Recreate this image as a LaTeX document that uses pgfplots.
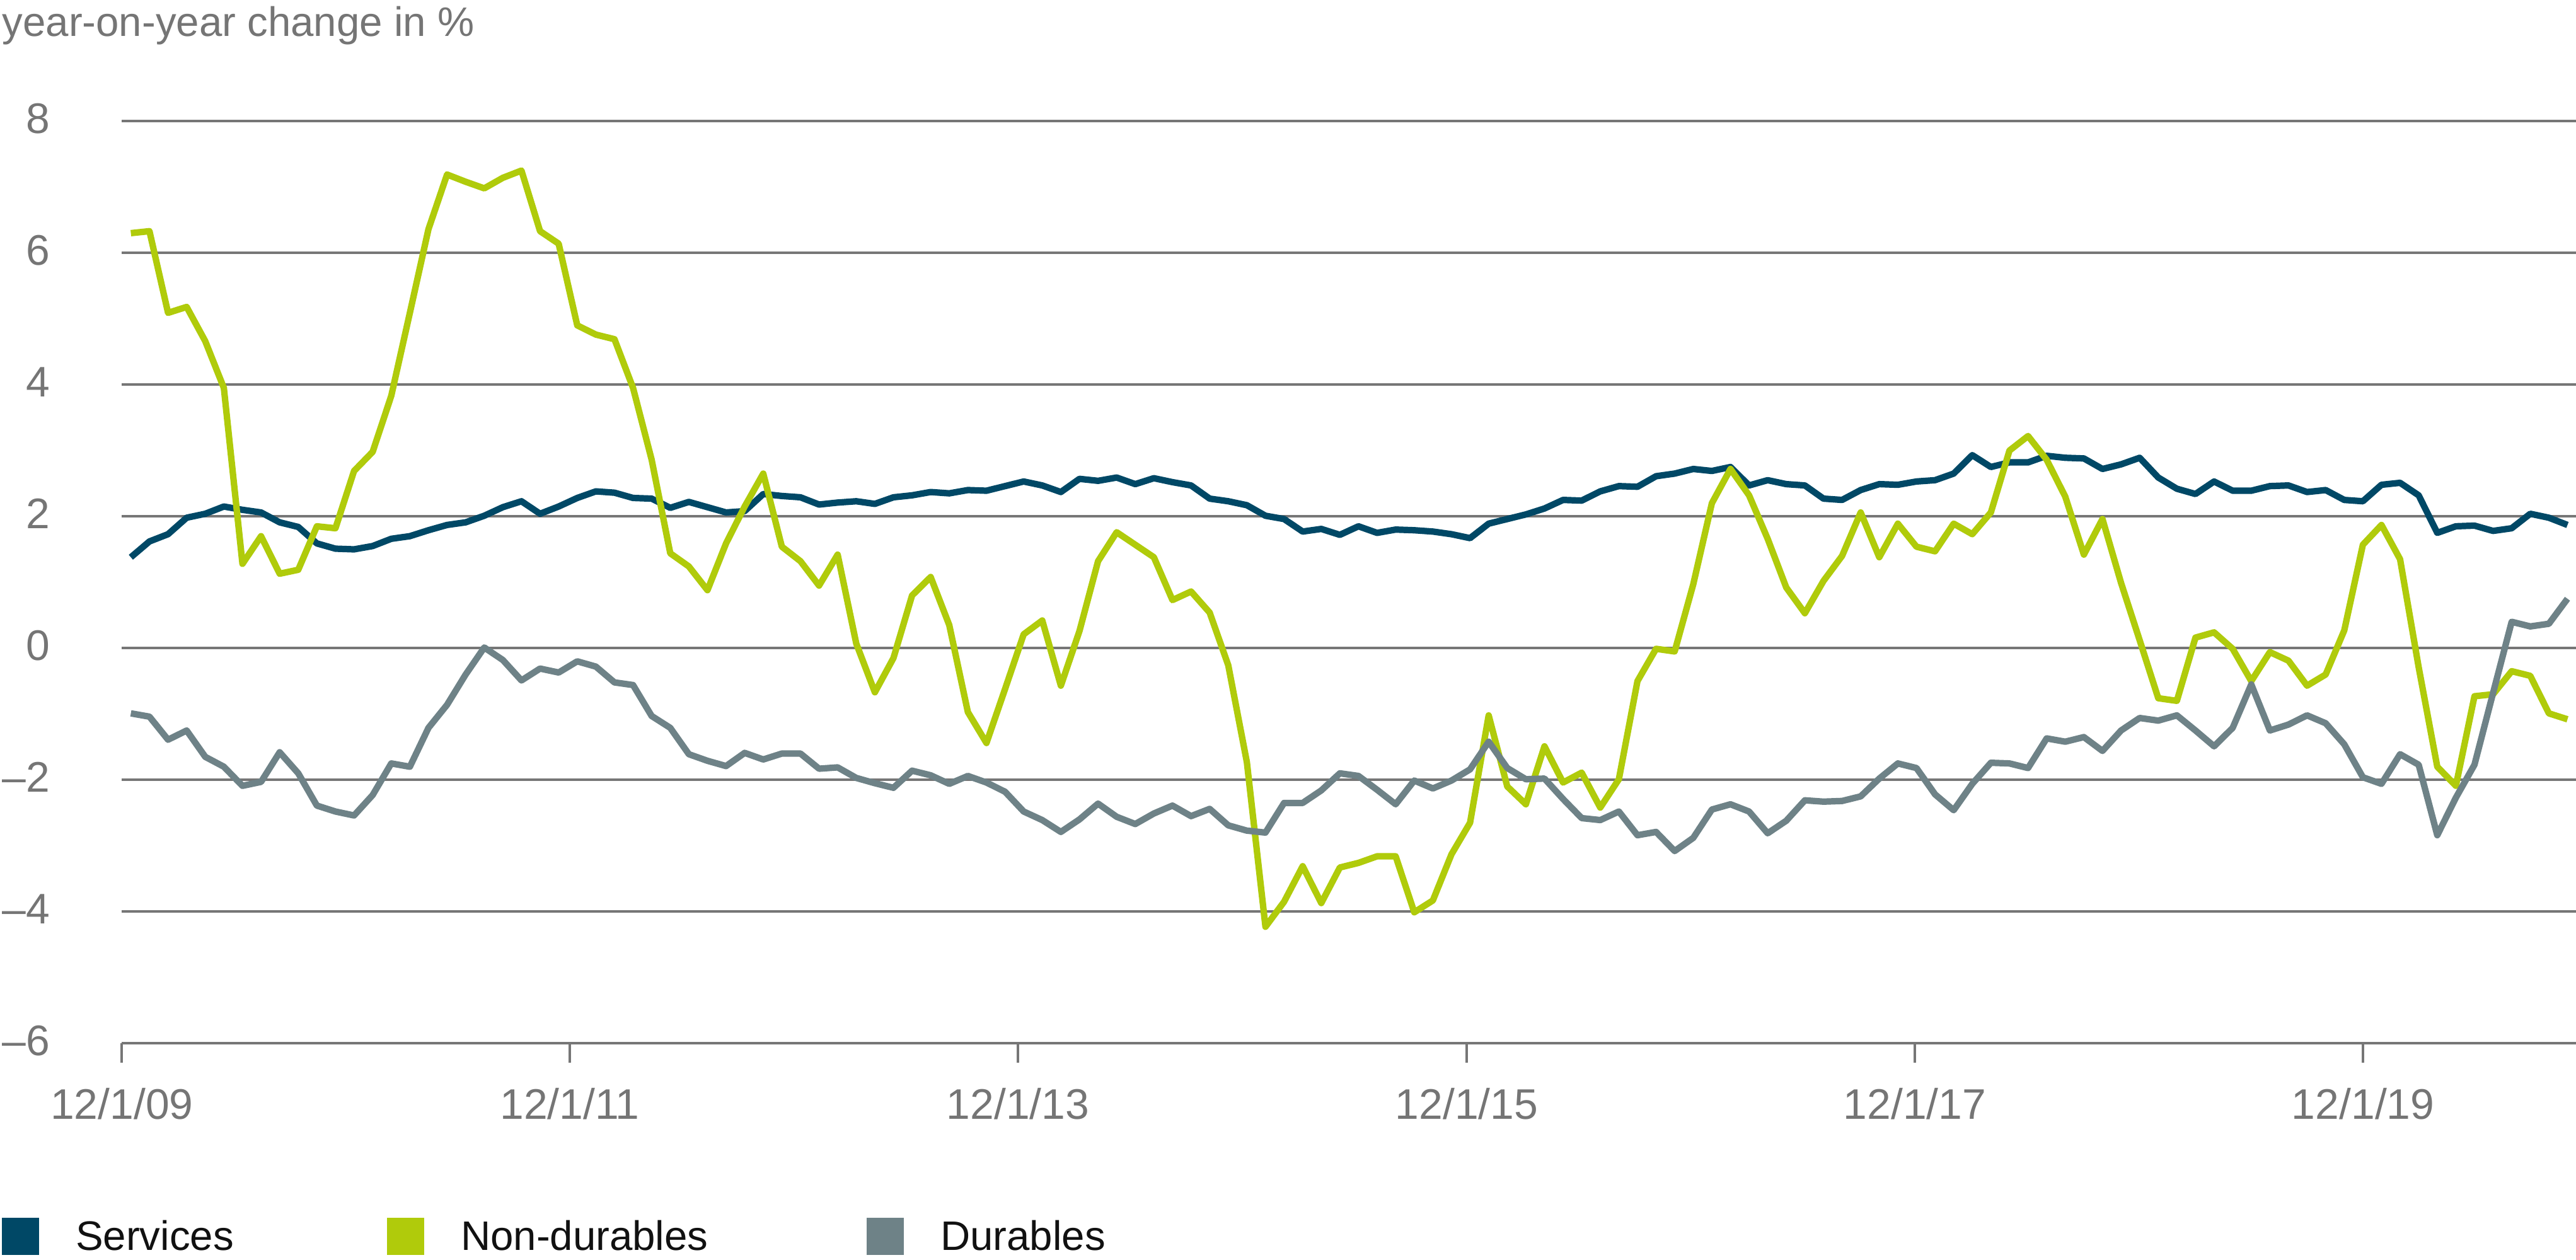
\documentclass[border=0pt]{standalone}
\usepackage{pgfplots}
\pgfplotsset{compat=1.18}
\usepackage{pgfplotstable}
\usepackage{fontspec}
\setmainfont{Liberation Sans}

\definecolor{servcol}{RGB}{0,72,102}
\definecolor{nondcol}{RGB}{176,203,11}
\definecolor{durcol}{RGB}{110,130,135}
\definecolor{gridcol}{RGB}{118,118,118}
\definecolor{labelgray}{RGB}{117,117,117}
\definecolor{legtext}{RGB}{17,17,17}

% month index, Services, Non-durables, Durables (yoy %)
\pgfplotstableread{
i S N D
0 1.38 6.30 -0.99
1 1.62 6.33 -1.04
2 1.73 5.09 -1.39
3 1.98 5.18 -1.25
4 2.04 4.66 -1.65
5 2.15 3.95 -1.80
6 2.10 1.28 -2.09
7 2.06 1.70 -2.03
8 1.91 1.13 -1.58
9 1.84 1.19 -1.90
10 1.59 1.85 -2.39
11 1.51 1.82 -2.48
12 1.50 2.69 -2.54
13 1.55 2.98 -2.23
14 1.66 3.83 -1.75
15 1.70 5.09 -1.80
16 1.79 6.36 -1.21
17 1.87 7.19 -0.86
18 1.91 7.08 -0.40
19 2.01 6.98 0.01
20 2.14 7.14 -0.18
21 2.23 7.25 -0.49
22 2.04 6.33 -0.31
23 2.15 6.14 -0.37
24 2.28 4.90 -0.20
25 2.38 4.76 -0.28
26 2.36 4.69 -0.52
27 2.28 3.95 -0.56
28 2.27 2.86 -1.03
29 2.13 1.44 -1.21
30 2.22 1.24 -1.61
31 2.14 0.88 -1.71
32 2.06 1.59 -1.79
33 2.08 2.15 -1.59
34 2.34 2.65 -1.69
35 2.31 1.54 -1.60
36 2.29 1.32 -1.60
37 2.18 0.95 -1.83
38 2.21 1.42 -1.81
39 2.23 0.07 -1.97
40 2.19 -0.67 -2.05
41 2.29 -0.15 -2.12
42 2.32 0.80 -1.86
43 2.37 1.08 -1.93
44 2.35 0.35 -2.06
45 2.40 -0.97 -1.94
46 2.39 -1.44 -2.04
47 2.46 -0.62 -2.18
48 2.53 0.21 -2.48
49 2.47 0.42 -2.61
50 2.37 -0.57 -2.79
51 2.57 0.26 -2.60
52 2.54 1.32 -2.36
53 2.59 1.76 -2.56
54 2.49 1.57 -2.67
55 2.58 1.38 -2.51
56 2.52 0.73 -2.39
57 2.47 0.86 -2.55
58 2.27 0.54 -2.44
59 2.23 -0.26 -2.69
60 2.17 -1.73 -2.77
61 2.01 -4.23 -2.80
62 1.96 -3.85 -2.35
63 1.77 -3.31 -2.35
64 1.81 -3.87 -2.16
65 1.72 -3.33 -1.90
66 1.85 -3.26 -1.94
67 1.75 -3.16 -2.15
68 1.80 -3.16 -2.37
69 1.79 -4.01 -2.01
70 1.77 -3.83 -2.13
71 1.73 -3.13 -2.01
72 1.67 -2.65 -1.84
73 1.89 -1.02 -1.42
74 1.96 -2.10 -1.82
75 2.03 -2.37 -1.99
76 2.12 -1.49 -1.98
77 2.25 -2.04 -2.29
78 2.24 -1.89 -2.58
79 2.38 -2.42 -2.61
80 2.46 -1.99 -2.48
81 2.45 -0.50 -2.84
82 2.61 -0.01 -2.79
83 2.65 -0.05 -3.08
84 2.72 0.97 -2.88
85 2.69 2.20 -2.45
86 2.75 2.72 -2.37
87 2.47 2.32 -2.48
88 2.55 1.66 -2.81
89 2.49 0.92 -2.62
90 2.47 0.53 -2.31
91 2.27 1.02 -2.33
92 2.25 1.40 -2.32
93 2.40 2.06 -2.25
94 2.49 1.38 -1.98
95 2.48 1.89 -1.75
96 2.53 1.54 -1.82
97 2.55 1.47 -2.22
98 2.65 1.89 -2.46
99 2.93 1.73 -2.06
100 2.75 2.06 -1.74
101 2.82 3.00 -1.75
102 2.82 3.22 -1.82
103 2.92 2.86 -1.37
104 2.89 2.30 -1.42
105 2.88 1.42 -1.35
106 2.72 1.96 -1.56
107 2.79 0.99 -1.25
108 2.89 0.12 -1.06
109 2.59 -0.76 -1.10
110 2.42 -0.80 -1.02
111 2.34 0.16 -1.25
112 2.53 0.24 -1.49
113 2.39 -0.01 -1.21
114 2.39 -0.50 -0.55
115 2.46 -0.06 -1.25
116 2.47 -0.19 -1.16
117 2.37 -0.57 -1.02
118 2.40 -0.40 -1.14
119 2.25 0.27 -1.46
120 2.23 1.57 -1.96
121 2.48 1.87 -2.06
122 2.51 1.35 -1.61
123 2.32 -0.29 -1.77
124 1.75 -1.80 -2.84
125 1.85 -2.09 -2.27
126 1.86 -0.73 -1.77
127 1.78 -0.70 -0.68
128 1.82 -0.35 0.40
129 2.04 -0.42 0.33
130 1.98 -0.99 0.37
131 1.87 -1.08 0.75
}\data

\begin{document}
\begin{tikzpicture}[font=\fontsize{8pt}{9.6pt}\selectfont]
\useasboundingbox (-23.65pt,-41.93pt) rectangle (476.35pt,202.51pt);
\begin{axis}[
    at={(0pt,0pt)}, anchor=south west,
    scale only axis,
    width=476.35pt, height=179.0pt,
    xmin=-0.4846, xmax=131.46,
    ymin=-6, ymax=8,
    enlargelimits=false,
    axis x line*=bottom, axis y line*=left,
    axis line style={draw=none},
    ymajorgrids,
    grid style={draw=gridcol, line width=0.49pt},
    tick label style={font=\fontsize{8.3pt}{10pt}\selectfont},
    ytick={-6,-4,-2,0,2,4,6,8},
    yticklabels={–6,–4,–2,0,2,4,6,8},
    ytick style={draw=none},
    yticklabel style={anchor=east, inner sep=0pt, xshift=-10.0pt, yshift=0.5pt, text=labelgray},
    xtick={-0.4846,23.60,47.69,71.82,95.91,120.01},
    xticklabels={12/1/09,12/1/11,12/1/13,12/1/15,12/1/17,12/1/19},
    tick align=outside,
    major tick length=3.79pt,
    xtick style={draw=gridcol, line width=0.49pt},
    xticklabel style={anchor=north, inner sep=0pt, yshift=-4.75pt, text=labelgray},
    legend columns=3,
    legend cell align=left,
    legend image code/.code={\fill[#1, draw=none] (0pt,-3.88pt) rectangle (7.22pt,3.34pt);},
    legend style={at={(-0.04887,-0.20927)}, anchor=west, draw=none, fill=none,
        inner sep=0pt, outer sep=0pt,
        nodes={inner sep=0pt, text height=5.8pt, text depth=0pt, text=legtext},
        /tikz/every odd column/.append style={column sep=7.1pt},
        /tikz/every even column/.append style={column sep=0pt}},
]
\addplot[color=servcol, line width=1.25pt, line join=round, no markers] table[x=i, y=S] {\data};
\addlegendentry{\makebox[60.43pt][l]{Services}}
\addplot[color=nondcol, line width=1.25pt, line join=round, no markers] table[x=i, y=N] {\data};
\addlegendentry{\makebox[78.78pt][l]{Non-durables}}
\addplot[color=durcol, line width=1.25pt, line join=round, no markers] table[x=i, y=D] {\data};
\addlegendentry{Durables}
\end{axis}
\node[anchor=base west, inner sep=0pt, text=labelgray] at (-23.4pt,195.42pt) {year-on-year change in \%};
\end{tikzpicture}
\end{document}
